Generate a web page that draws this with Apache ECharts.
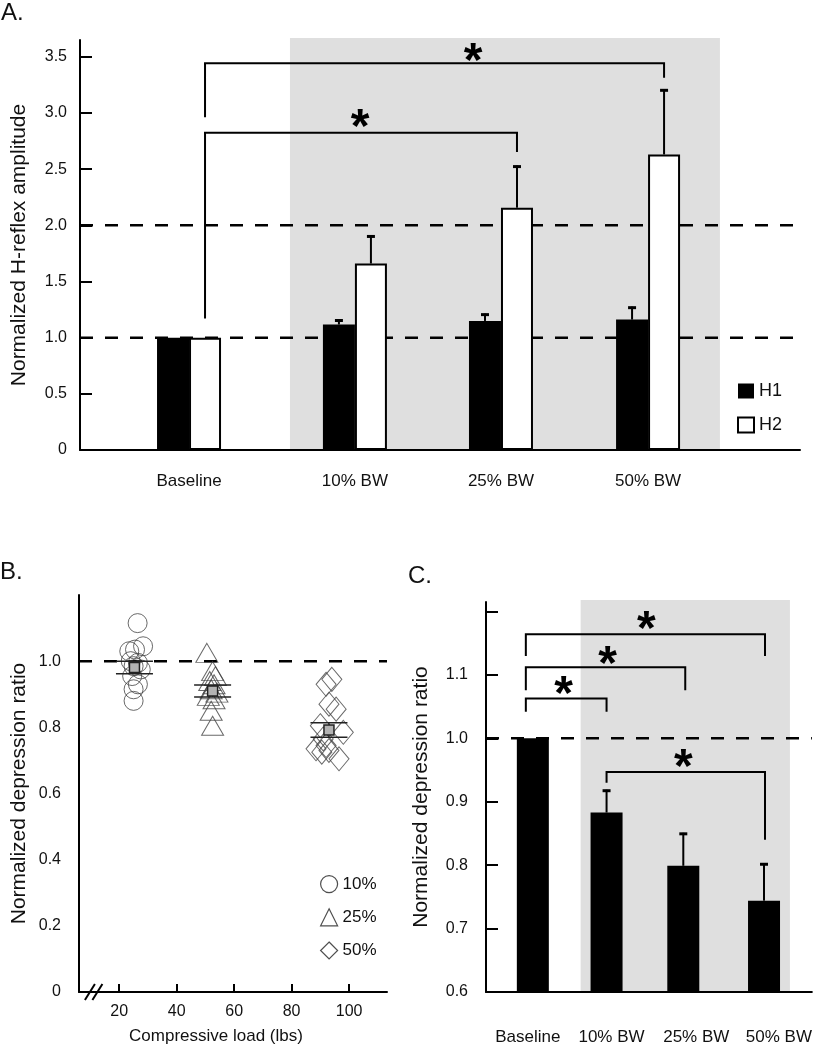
<!DOCTYPE html>
<html><head><meta charset="utf-8">
<script src="https://cdn.jsdelivr.net/npm/echarts@6/dist/echarts.min.js"></script>
<style>html,body{margin:0;padding:0;background:#fff}#c{width:815px;height:1050px}</style>
</head><body><div id="c"></div>
<script>
// ================= DATA =================
// Panel A
const catsA   = ['Baseline', '10% BW', '25% BW', '50% BW'];
const h1Mean  = [1.0, 1.117, 1.149, 1.161];
const h1Err   = [0, 0.045, 0.065, 0.115];
const h2Mean  = [1.0, 1.66, 2.157, 2.631];
const h2Err   = [0, 0.25, 0.375, 0.58];
const yTicksA = [0, 0.5, 1.0, 1.5, 2.0, 2.5, 3.0, 3.5];
const refLinesA = [1.0, 2.0];
// brackets: [left category, right category, top, left leg end, right leg end]
const bracketsA = [[0, 2, 2.824, 1.17, 2.652], [0, 3, 3.443, 2.963, 3.313]];

// Panel B (compressive load in lbs, normalized depression ratio)
const load10  = [26.4, 28.3, 23.5, 25.5, 24.0, 26.5, 25.0, 27.5, 24.5, 26.5, 25.0, 25.0];
const ratio10 = [1.115, 1.045, 1.03, 1.035, 1.0, 0.995, 0.985, 0.975, 0.955, 0.93, 0.915, 0.88];
const load25  = [50.5, 52.5, 53.5, 51.5, 53.0, 52.0, 54.0, 51.0, 53.0, 52.0, 52.5];
const ratio25 = [1.025, 0.97, 0.955, 0.94, 0.93, 0.915, 0.905, 0.895, 0.885, 0.85, 0.805];
const load50  = [92.0, 94.0, 93.0, 95.5, 90.0, 98.0, 88.5, 90.5, 92.0, 93.0, 96.5, 91.0];
const ratio50 = [0.93, 0.945, 0.87, 0.855, 0.805, 0.785, 0.735, 0.725, 0.745, 0.73, 0.705, 0.765];
const meanLoad  = [25.3, 52.5, 93.0];
const meanRatio = [0.981, 0.91, 0.792];
const seRatio   = [0.019, 0.018, 0.022];
const groupsB   = ['10%', '25%', '50%'];
const xTicksB = [20, 40, 60, 80, 100];
const yTicksB = [0, 0.2, 0.4, 0.6, 0.8, 1.0];
const refLineB = [1.0];

// Panel C
const catsC     = ['Baseline', '10% BW', '25% BW', '50% BW'];
const ratioMean = [1.0, 0.883, 0.799, 0.744];
const ratioErr  = [0, 0.036, 0.052, 0.059];
const yTicksC   = [0.6, 0.7, 0.8, 0.9, 1.0, 1.1];
const yTickMarksC = [0.6, 0.7, 0.8, 0.9, 1.0, 1.1, 1.2];
const refLineC  = [1.0];
const bracketsC = [[0, 1, 1.063, 1.042, 1.042], [0, 2, 1.112, 1.076, 1.076],
                   [0, 3, 1.164, 1.130, 1.130], [1, 3, 0.947, 0.930, 0.840]];

// ================= LAYOUT (positions on each panel's x scale) =================
const slotA  = [0.742, 1.871, 2.865, 3.866];   // A x scale 0..4.9
const shadeA = [1.429, 4.355];
const starsA = [[1.906, 2.956], [2.675, 3.543]];
const slotC  = [0.575, 1.480, 2.422, 3.413];   // C x scale 0..4
const labelC = [0.514, 1.541, 2.581, 3.596];
const legC   = [0.489, 1.480, 2.446, 3.425];
const shadeC = [1.162, 3.731];
const starsC = [[0.954, 1.084], [1.492, 1.132], [1.969, 1.187], [2.422, 0.969]];
const breakB = [9.8, 12.4];

const FONT = 'Liberation Sans, Arial, sans-serif';
const INK = '#111';
const BARW = 32;
const STAR = 48;

function nearest(arr, v) {
  let b = 0;
  arr.forEach((a, i) => { if (Math.abs(a - v) < Math.abs(arr[b] - v)) b = i; });
  return b;
}
const fmt1 = v => (v === 0 ? '0' : v.toFixed(1));

function shadeSeries(idx, range) {
  return {
    type: 'custom', xAxisIndex: idx, yAxisIndex: idx, z: 0, silent: true,
    data: [range],
    renderItem: (p, api) => {
      const cs = p.coordSys;
      const x1 = api.coord([api.value(0), 0])[0];
      const x2 = api.coord([api.value(1), 0])[0];
      return { type: 'rect', shape: { x: x1, y: cs.y - 2, width: x2 - x1, height: cs.height + 2 },
               style: { fill: '#dfdfdf' } };
    }
  };
}
function dashSeries(idx, vals) {
  return {
    type: 'custom', xAxisIndex: idx, yAxisIndex: idx, z: 1, silent: true,
    data: vals.map(v => [0, v]),
    renderItem: (p, api) => {
      const cs = p.coordSys;
      const y = api.coord([0, api.value(1)])[1];
      return { type: 'line', shape: { x1: cs.x, y1: y, x2: cs.x + cs.width, y2: y },
               style: { stroke: '#000', lineWidth: 2.5, lineDash: [13, 12] } };
    }
  };
}
function errSeries(idx, items) {
  // items: [x, mean, err, pixel offset]
  return {
    type: 'custom', xAxisIndex: idx, yAxisIndex: idx, z: 3, silent: true,
    data: items,
    renderItem: (p, api) => {
      const x = api.value(0), m = api.value(1), e = api.value(2), off = api.value(3);
      if (!(e > 0)) return { type: 'group', children: [] };
      const b = api.coord([x, m]), t = api.coord([x, m + e]);
      const cx = b[0] + off;
      return { type: 'group', children: [
        { type: 'line', shape: { x1: cx, y1: b[1], x2: cx, y2: t[1] }, style: { stroke: '#000', lineWidth: 2 } },
        { type: 'line', shape: { x1: cx - 4, y1: t[1] + 1, x2: cx + 4, y2: t[1] + 1 }, style: { stroke: '#000', lineWidth: 3 } }
      ]};
    }
  };
}
function bracketSeries(idx, items, offPx) {
  // items: [xLeft, xRight, top, leftEnd, rightEnd]
  return {
    type: 'custom', xAxisIndex: idx, yAxisIndex: idx, z: 4, silent: true,
    data: items,
    renderItem: (p, api) => {
      const top = api.value(2);
      const xl = api.coord([api.value(0), top])[0] + offPx;
      const xr = api.coord([api.value(1), top])[0] + offPx;
      const yt = api.coord([0, top])[1];
      const yl = api.coord([0, api.value(3)])[1];
      const yr = api.coord([0, api.value(4)])[1];
      return { type: 'polyline', shape: { points: [[xl, yl], [xl, yt], [xr, yt], [xr, yr]] },
               style: { stroke: '#000', lineWidth: 2, fill: null } };
    }
  };
}
function starSeries(idx, items) {
  return {
    type: 'custom', xAxisIndex: idx, yAxisIndex: idx, z: 4, silent: true,
    data: items,
    renderItem: (p, api) => {
      const c = api.coord([api.value(0), api.value(1)]);
      return { type: 'text', x: c[0], y: c[1] + STAR * 0.23,
               style: { text: '*', fill: '#000', font: 'bold ' + STAR + 'px ' + FONT,
                        align: 'center', verticalAlign: 'middle' } };
    }
  };
}

const scatterStyle = { color: 'rgba(255,255,255,0)', borderColor: '#444', borderWidth: 1 };

const option = {
  animation: false,
  backgroundColor: '#fff',
  textStyle: { fontFamily: FONT, color: INK },
  title: [
    { text: 'A.', left: 1, top: 1, padding: 0, textStyle: { fontSize: 24, fontWeight: 'normal', color: INK, fontFamily: FONT } },
    { text: 'B.', left: 0, top: 560, padding: 0, textStyle: { fontSize: 24, fontWeight: 'normal', color: INK, fontFamily: FONT } },
    { text: 'C.', left: 408, top: 564, padding: 0, textStyle: { fontSize: 24, fontWeight: 'normal', color: INK, fontFamily: FONT } }
  ],
  legend: [
    { orient: 'vertical', left: 737, top: 382, padding: 0, itemWidth: 16, itemHeight: 15, itemGap: 16, icon: 'rect',
      textStyle: { fontSize: 18, color: INK, fontFamily: FONT }, selectedMode: false,
      data: [{ name: 'H1', itemStyle: { color: '#000' } },
             { name: 'H2', itemStyle: { color: '#fff', borderColor: '#000', borderWidth: 2 } }] },
    { orient: 'vertical', left: 320, top: 875, padding: 0, itemWidth: 17, itemHeight: 17, itemGap: 15,
      textStyle: { fontSize: 17, color: INK, fontFamily: FONT }, selectedMode: false,
      itemStyle: { color: 'rgba(255,255,255,0)', borderColor: '#222', borderWidth: 1.2 },
      data: groupsB }
  ],
  grid: [
    { left: 80, right: 15, top: 40, bottom: 600 },
    { left: 79, right: 428, top: 595, bottom: 58 },
    { left: 486, right: 2, top: 602, bottom: 58 }
  ],
  xAxis: [
    { gridIndex: 0, type: 'value', min: 0, max: 4.9,
      axisLine: { show: true, onZero: false, lineStyle: { color: '#000', width: 2 } },
      axisTick: { show: false }, splitLine: { show: false },
      axisLabel: { customValues: slotA, formatter: v => catsA[nearest(slotA, v)], fontSize: 17, color: INK, margin: 23 } },
    { gridIndex: 1, type: 'value', min: 6, max: 113.2,
      axisLine: { show: true, onZero: false, lineStyle: { color: '#000', width: 2 } },
      axisTick: { show: true, inside: true, length: 8, lineStyle: { color: '#000', width: 2 }, customValues: xTicksB },
      splitLine: { show: false },
      axisLabel: { customValues: xTicksB, fontSize: 16, color: INK, margin: 12 },
      name: 'Compressive load (lbs)', nameLocation: 'middle', nameGap: 36,
      nameTextStyle: { fontSize: 17, color: INK, padding: [0, 34, 0, 0] } },
    { gridIndex: 2, type: 'value', min: 0, max: 4,
      axisLine: { show: true, onZero: false, lineStyle: { color: '#000', width: 2 } },
      axisTick: { show: false }, splitLine: { show: false },
      axisLabel: { customValues: labelC, formatter: v => catsC[nearest(labelC, v)], fontSize: 17, color: INK, margin: 37 } }
  ],
  yAxis: [
    { gridIndex: 0, type: 'value', min: 0, max: 3.65,
      axisLine: { show: true, lineStyle: { color: '#000', width: 2 } },
      axisTick: { show: true, inside: true, length: 12, lineStyle: { color: '#000', width: 2 }, customValues: yTicksA },
      axisLabel: { customValues: yTicksA, formatter: fmt1, fontSize: 16, color: INK, margin: 13 },
      splitLine: { show: false },
      name: 'Normalized H-reflex amplitude', nameLocation: 'middle', nameRotate: 90, nameGap: 50,
      nameTextStyle: { fontSize: 21, color: INK } },
    { gridIndex: 1, type: 'value', min: 0, max: 1.2,
      axisLine: { show: true, lineStyle: { color: '#000', width: 2 } },
      axisTick: { show: false },
      axisLabel: { customValues: yTicksB, formatter: fmt1, fontSize: 16, color: INK, margin: 18 },
      splitLine: { show: false },
      name: 'Normalized depression ratio', nameLocation: 'middle', nameRotate: 90, nameGap: 49,
      nameTextStyle: { fontSize: 21, color: INK } },
    { gridIndex: 2, type: 'value', min: 0.6, max: 1.215,
      axisLine: { show: true, lineStyle: { color: '#000', width: 2 } },
      axisTick: { show: true, inside: true, length: 12, lineStyle: { color: '#000', width: 2 }, customValues: yTickMarksC },
      axisLabel: { customValues: yTicksC, formatter: fmt1, fontSize: 16, color: INK, margin: 18 },
      splitLine: { show: false },
      name: 'Normalized depression ratio', nameLocation: 'middle', nameRotate: 90, nameGap: 54,
      nameTextStyle: { fontSize: 21, color: INK } }
  ],
  series: [
    // ---------- A ----------
    shadeSeries(0, shadeA),
    dashSeries(0, refLinesA),
    { name: 'H1', type: 'bar', xAxisIndex: 0, yAxisIndex: 0, z: 2, barWidth: BARW, barGap: '0%',
      itemStyle: { color: '#000' }, data: h1Mean.map((v, i) => [slotA[i], v]) },
    { name: 'H2', type: 'bar', xAxisIndex: 0, yAxisIndex: 0, z: 2, barWidth: BARW, barGap: '0%',
      itemStyle: { color: '#fff', borderColor: '#000', borderWidth: 2 }, data: h2Mean.map((v, i) => [slotA[i], v]) },
    errSeries(0, h1Mean.map((v, i) => [slotA[i], v, h1Err[i], -BARW / 2])
      .concat(h2Mean.map((v, i) => [slotA[i], v, h2Err[i], BARW / 2]))),
    bracketSeries(0, bracketsA.map(b => [slotA[b[0]], slotA[b[1]], b[2], b[3], b[4]]), BARW / 2),
    starSeries(0, starsA),
    // ---------- B ----------
    dashSeries(1, refLineB),
    { name: '10%', type: 'scatter', xAxisIndex: 1, yAxisIndex: 1, z: 2, symbol: 'circle', symbolSize: 19,
      itemStyle: scatterStyle, data: load10.map((x, i) => [x, ratio10[i]]) },
    { name: '25%', type: 'scatter', xAxisIndex: 1, yAxisIndex: 1, z: 2, symbol: 'triangle', symbolSize: [22, 19],
      itemStyle: scatterStyle, data: load25.map((x, i) => [x, ratio25[i]]) },
    { name: '50%', type: 'scatter', xAxisIndex: 1, yAxisIndex: 1, z: 2, symbol: 'diamond', symbolSize: [20, 24],
      itemStyle: scatterStyle, data: load50.map((x, i) => [x, ratio50[i]]) },
    { type: 'custom', xAxisIndex: 1, yAxisIndex: 1, z: 3, silent: true,
      data: meanLoad.map((x, i) => [x, meanRatio[i], seRatio[i]]),
      renderItem: (p, api) => {
        const x = api.value(0), m = api.value(1), s = api.value(2);
        const c = api.coord([x, m]), hi = api.coord([x, m + s]), lo = api.coord([x, m - s]);
        const hw = 18.5;
        return { type: 'group', children: [
          { type: 'line', shape: { x1: c[0], y1: hi[1], x2: c[0], y2: lo[1] }, style: { stroke: '#222', lineWidth: 1.2 } },
          { type: 'line', shape: { x1: c[0] - hw, y1: hi[1], x2: c[0] + hw, y2: hi[1] }, style: { stroke: '#222', lineWidth: 1.5 } },
          { type: 'line', shape: { x1: c[0] - hw, y1: lo[1], x2: c[0] + hw, y2: lo[1] }, style: { stroke: '#222', lineWidth: 1.5 } },
          { type: 'rect', shape: { x: c[0] - 5, y: c[1] - 5, width: 10, height: 10 }, style: { fill: '#b3b3b3', stroke: '#222', lineWidth: 1.5 } }
        ]};
      } },
    { type: 'custom', xAxisIndex: 1, yAxisIndex: 1, z: 5, silent: true, clip: false,
      data: breakB.map(x => [x, 0]),
      renderItem: (p, api) => {
        const c = api.coord([api.value(0), 0]);
        return { type: 'line', shape: { x1: c[0] - 5, y1: c[1] + 8, x2: c[0] + 5, y2: c[1] - 8 },
                 style: { stroke: '#000', lineWidth: 2 } };
      } },
    // ---------- C ----------
    shadeSeries(2, shadeC),
    dashSeries(2, refLineC),
    { name: 'ratio', type: 'bar', xAxisIndex: 2, yAxisIndex: 2, z: 2, barWidth: BARW,
      itemStyle: { color: '#000' }, data: ratioMean.map((v, i) => [slotC[i], v]) },
    errSeries(2, ratioMean.map((v, i) => [slotC[i], v, ratioErr[i], 0])),
    bracketSeries(2, bracketsC.map(b => [legC[b[0]], legC[b[1]], b[2], b[3], b[4]]), 0),
    starSeries(2, starsC)
  ]
};

const chart = echarts.init(document.getElementById('c'), null, { renderer: 'canvas' });
chart.setOption(option);
</script>
</body></html>
